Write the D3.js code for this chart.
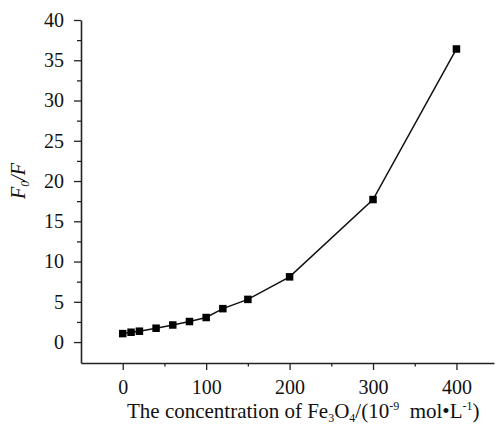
<!DOCTYPE html>
<html>
<head>
<meta charset="utf-8">
<script src="https://cdn.jsdelivr.net/npm/d3@7"></script>
<style>
  body { margin: 0; background: #fff; }
  svg text { font-family: "Liberation Serif", "Times New Roman", serif; fill: #111; }
</style>
</head>
<body>
<script>
// concentration of Fe3O4 (10^-9 mol/L)
var concentration = [0, 10, 20, 40, 60, 80, 100, 120, 150, 200, 300, 400];
// F0/F ratio
var ratio = [1.05, 1.22, 1.35, 1.72, 2.12, 2.55, 3.05, 4.15, 5.3, 8.1, 17.7, 36.4];
var xTicks = [0, 100, 200, 300, 400];
var xMinor = [50, 150, 250, 350];
var yTicks = [0, 5, 10, 15, 20, 25, 30, 35, 40];
var yMinor = [2.5, 7.5, 12.5, 17.5, 22.5, 27.5, 32.5, 37.5];

var serif = '"Liberation Serif", "Times New Roman", serif';
var width = 495, height = 426;

var svg = d3.select("body").append("svg")
  .attr("width", width)
  .attr("height", height);

var x = d3.scaleLinear().domain([-50, 445]).range([81, 494]);
var y = d3.scaleLinear().domain([-2.6, 40]).range([363, 20]);

//minor ticks first, so the major axes sit on top
svg.append("g")
  .attr("transform", "translate(0," + y(-2.6) + ")")
  .call(d3.axisBottom(x).tickValues(xMinor).tickSize(3.5).tickFormat(""))
  .call(g => g.select(".domain").remove());
svg.append("g")
  .attr("transform", "translate(" + x(-50) + ",0)")
  .call(d3.axisLeft(y).tickValues(yMinor).tickSize(4).tickFormat(""))
  .call(g => g.select(".domain").remove());

var xAxis = svg.append("g")
  .attr("transform", "translate(0," + y(-2.6) + ")")
  .call(d3.axisBottom(x).tickValues(xTicks).tickSize(7).tickSizeOuter(0).tickPadding(10));
var yAxis = svg.append("g")
  .attr("transform", "translate(" + x(-50) + ",0)")
  .call(d3.axisLeft(y).tickValues(yTicks).tickSize(7).tickSizeOuter(0).tickPadding(10));

svg.selectAll("g").attr("font-family", serif).attr("font-size", 20);
svg.selectAll(".tick line").attr("stroke", "#222").attr("stroke-width", 1.3);
svg.selectAll(".domain").attr("stroke", "#222").attr("stroke-width", 1.6);
svg.selectAll(".tick text")
  .style("font-family", serif)
  .style("font-size", "20px")
  .attr("fill", "#111");

//series
var points = concentration.map((c, i) => [c, ratio[i]]);
svg.append("path")
  .datum(points)
  .attr("fill", "none")
  .attr("stroke", "#111")
  .attr("stroke-width", 1.5)
  .attr("d", d3.line().x(d => x(d[0])).y(d => y(d[1])));

var s = 7.5;
svg.selectAll(".pt")
  .data(points)
  .enter()
  .append("rect")
  .attr("class", "pt")
  .attr("x", d => x(d[0]) - s / 2)
  .attr("y", d => y(d[1]) - s / 2)
  .attr("width", s)
  .attr("height", s)
  .attr("fill", "#000");

//x title
var xt = svg.append("text")
  .attr("x", 127)
  .attr("y", 418)
  .style("font-size", "21px");
xt.append("tspan").text("The concentration of Fe");
xt.append("tspan").attr("dy", 4).style("font-size", "12px").text("3");
xt.append("tspan").attr("dy", -4).text("O");
xt.append("tspan").attr("dy", 4).style("font-size", "12px").text("4");
xt.append("tspan").attr("dy", -4).text("/(10");
xt.append("tspan").attr("dy", -8).style("font-size", "12px").text("-9");
xt.append("tspan").attr("dy", 8).text("\u00a0 mol\u2022L");
xt.append("tspan").attr("dy", -8).style("font-size", "12px").text("-1");
xt.append("tspan").attr("dy", 8).text(")");

//y title
var yt = svg.append("text")
  .attr("transform", "translate(25,181) rotate(-90)")
  .attr("text-anchor", "middle")
  .style("font-size", "20px")
  .style("font-style", "italic");
yt.append("tspan").text("F");
yt.append("tspan").attr("dy", 4).style("font-size", "12px").text("0");
yt.append("tspan").attr("dy", -4).text("/F");
</script>
</body>
</html>
